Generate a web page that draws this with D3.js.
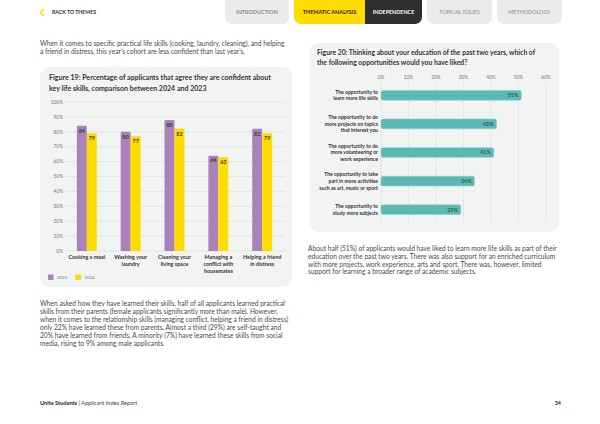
<!DOCTYPE html>
<html>
<head>
<meta charset="utf-8">
<script src="https://cdn.jsdelivr.net/npm/d3@7"></script>
<style>
  body { margin: 0; background: #fff; }
  svg { display: block; font-family: Lato, "Open Sans", sans-serif; }
</style>
</head>
<body>
<svg id="page" width="600" height="424"></svg>
<script>
// ---- data ----
const navTabs = ["INTRODUCTION", "THEMATIC ANALYSIS", "INDEPENDENCE", "TOPICAL ISSUES", "METHODOLOGY"];
const skills = ["Cooking a meal", "Washing your\nlaundry", "Cleaning your\nliving space", "Managing a\nconflict with\nhousemates", "Helping a friend\nin distress"];
const years = ["2023", "2024"];
const values2023 = [84, 80, 88, 64, 82];
const values2024 = [79, 77, 82, 63, 79];
const yTicks = [0, 10, 20, 30, 40, 50, 60, 70, 80, 90, 100];

const opportunities = [
  "The opportunity to\nlearn more life skills",
  "The opportunity to do\nmore projects on topics\nthat interest you",
  "The opportunity to do\nmore volunteering or\nwork experience",
  "The opportunity to take\npart in more activities\nsuch as art, music or sport",
  "The opportunity to\nstudy more subjects"
];
const oppValues = [51, 42, 41, 34, 29];
const xTicks = [0, 10, 20, 30, 40, 50, 60];

const introText = [
  "When it comes to specific practical life skills (cooking, laundry, cleaning), and helping",
  "a friend in distress, this year\u2019s cohort are less confident than last year\u2019s."
];
const fig19Title = ["Figure 19: Percentage of applicants that agree they are confident about",
  "key life skills, comparison between 2024 and 2023"];
const fig20Title = ["Figure 20: Thinking about your education of the past two years, which of",
  "the following opportunities would you have liked?"];
const rightText = [
  "About half (51%) of applicants would have liked to learn more life skills as part of their",
  "education over the past two years. There was also support for an enriched curriculum",
  "with more projects, work experience, arts and sport. There was, however, limited",
  "support for learning a broader range of academic subjects."
];
const leftText = [
  "When asked how they have learned their skills, half of all applicants learned practical",
  "skills from their parents (female applicants significantly more than male). However,",
  "when it comes to the relationship skills (managing conflict, helping a friend in distress)",
  "only 22% have learned these from parents. Almost a third (29%) are self-taught and",
  "20% have learned from friends. A minority (7%) have learned these skills from social",
  "media, rising to 9% among male applicants."
];

const purple = "#a982b9";
const yellow = "#ffdc00";
const teal = "#5cb8b3";
const boxFill = "#f2f3f3";
const gridCol = "#dfe1e1";
const textCol = "#4a4a4a";

const svg = d3.select("#page");

// ---- nav bar ----
const tabX = [225, 294, 365, 427, 497];
const tabW = [64, 71, 57, 65, 65];
const nav = svg.append("g");
nav.selectAll("rect").data(navTabs).enter()
  .append("rect")
  .attr("x", (d, i) => tabX[i])
  .attr("y", -10)
  .attr("width", (d, i) => tabW[i])
  .attr("height", 34)
  .attr("rx", 7)
  .attr("fill", (d, i) => i == 1 ? yellow : i == 2 ? "#2f2f2f" : "#ebebeb");
// square off the joint between the two active tabs
nav.append("rect").attr("x", 355).attr("y", -10).attr("width", 10).attr("height", 34).attr("fill", yellow);
nav.append("rect").attr("x", 365).attr("y", -10).attr("width", 10).attr("height", 34).attr("fill", "#2f2f2f");
nav.selectAll("text").data(navTabs).enter()
  .append("text")
  .attr("x", (d, i) => tabX[i] + tabW[i] / 2)
  .attr("y", 14.2)
  .attr("text-anchor", "middle")
  .attr("font-size", 5.4)
  .attr("font-weight", (d, i) => i < 3 ? 700 : 400)
  .attr("fill", (d, i) => i == 1 ? "#222" : i == 2 ? "#fff" : "#8a8a8a")
  .text(d => d);
nav.append("path")
  .attr("d", "M44,9 L40.5,12.5 L44,16")
  .attr("fill", "none").attr("stroke", yellow).attr("stroke-width", 1.6);
nav.append("text").attr("x", 52).attr("y", 14.2)
  .attr("font-size", 5.2).attr("font-weight", 700).attr("fill", "#333")
  .text("BACK TO THEMES");

// ---- paragraphs ----
function para(lines, x, y0, step) {
  svg.append("g").selectAll("text").data(lines).enter()
    .append("text")
    .attr("x", x)
    .attr("y", (d, i) => y0 + i * step)
    .attr("font-size", 6.65)
    .attr("fill", textCol)
    .text(d => d);
}
para(introText, 40, 46.2, 7.6);
para(rightText, 308, 251.2, 7.7);
para(leftText, 40, 306.2, 7.9);

// ---- Figure 19 (grouped columns) ----
svg.append("rect").attr("x", 40).attr("y", 67).attr("width", 252).attr("height", 220)
  .attr("rx", 9).attr("fill", boxFill);
svg.append("g").selectAll("text").data(fig19Title).enter()
  .append("text")
  .attr("x", 49).attr("y", (d, i) => 80 + i * 10.5)
  .attr("font-size", 7.05).attr("font-weight", 700).attr("fill", "#333")
  .text(d => d);

const y = d3.scaleLinear().domain([0, 100]).range([251, 102]);
const x0 = d3.scaleBand().domain(d3.range(skills.length)).range([65, 284]).paddingInner(0.545).paddingOuter(0.27);
const x1 = d3.scaleBand().domain(years).range([0, x0.bandwidth()]);
const colChart = svg.append("g");

colChart.append("g").selectAll("line").data(yTicks).enter()
  .append("line")
  .attr("x1", 65).attr("x2", 285)
  .attr("y1", d => y(d)).attr("y2", d => y(d))
  .attr("stroke", gridCol).attr("stroke-width", 0.7);
colChart.append("g").selectAll("text").data(yTicks).enter()
  .append("text")
  .attr("x", 63).attr("y", d => y(d) + 1.7)
  .attr("text-anchor", "end")
  .attr("font-size", 4.8).attr("fill", "#777")
  .text(d => d + "%");

const colData = [];
skills.forEach((s, i) => {
  colData.push({ i: i, year: "2023", v: values2023[i] });
  colData.push({ i: i, year: "2024", v: values2024[i] });
});
colChart.append("g").selectAll("path").data(colData).enter()
  .append("path")
  .attr("d", d => {
    const bx = x0(d.i) + x1(d.year), bw = x1.bandwidth(), top = y(d.v), bot = y(0), r = 1.2;
    return `M${bx},${bot} L${bx},${top + r} Q${bx},${top} ${bx + r},${top} L${bx + bw - r},${top} Q${bx + bw},${top} ${bx + bw},${top + r} L${bx + bw},${bot} Z`;
  })
  .attr("fill", d => d.year == "2023" ? purple : yellow);
colChart.append("g").selectAll("text").data(colData).enter()
  .append("text")
  .attr("x", d => x0(d.i) + x1(d.year) + x1.bandwidth() / 2)
  .attr("y", d => y(d.v) + 6.8)
  .attr("text-anchor", "middle")
  .attr("font-size", 5.4).attr("font-weight", 700)
  .attr("fill", "#3b3340")
  .text(d => d.v);

const catLabels = colChart.append("g").selectAll("text").data(skills).enter()
  .append("text")
  .attr("x", (d, i) => x0(i) + x0.bandwidth() / 2)
  .attr("y", 259)
  .attr("text-anchor", "middle")
  .attr("font-size", 5.4).attr("font-weight", 700).attr("fill", "#333");
catLabels.selectAll("tspan").data(d => d.split("\n")).enter()
  .append("tspan")
  .attr("x", function () { return this.parentNode.getAttribute("x"); })
  .attr("dy", (d, i) => i == 0 ? 0 : 6.9)
  .text(d => d);

const legend = colChart.append("g");
legend.selectAll("rect").data(years).enter()
  .append("rect")
  .attr("x", (d, i) => 48 + i * 27.5).attr("y", 274.5)
  .attr("width", 5.5).attr("height", 5.5)
  .attr("fill", d => d == "2023" ? purple : yellow);
legend.selectAll("text").data(years).enter()
  .append("text")
  .attr("x", (d, i) => 57 + i * 27.5).attr("y", 279.3)
  .attr("font-size", 4.3).attr("fill", "#777")
  .text(d => d);

// ---- Figure 20 (horizontal bars) ----
svg.append("rect").attr("x", 309).attr("y", 43).attr("width", 250).attr("height", 189)
  .attr("rx", 9).attr("fill", boxFill);
svg.append("g").selectAll("text").data(fig20Title).enter()
  .append("text")
  .attr("x", 317).attr("y", (d, i) => 55 + i * 10.3)
  .attr("font-size", 6.8).attr("font-weight", 700).attr("fill", "#333")
  .text(d => d);

const x = d3.scaleLinear().domain([0, 60]).range([381, 546]);
const yb = d3.scaleBand().domain(d3.range(opportunities.length)).range([81, 224]).paddingInner(0.66).paddingOuter(0.33);
const barChart = svg.append("g");

barChart.append("g").selectAll("line").data(xTicks).enter()
  .append("line")
  .attr("x1", d => x(d)).attr("x2", d => x(d))
  .attr("y1", 82).attr("y2", 223)
  .attr("stroke", gridCol).attr("stroke-width", 0.7);
barChart.append("g").selectAll("text").data(xTicks).enter()
  .append("text")
  .attr("x", d => x(d)).attr("y", 78.5)
  .attr("text-anchor", "middle")
  .attr("font-size", 4.8).attr("fill", "#777")
  .text(d => d + "%");

barChart.append("g").selectAll("rect").data(oppValues).enter()
  .append("rect")
  .attr("x", x(0))
  .attr("y", (d, i) => yb(i))
  .attr("width", d => x(d) - x(0))
  .attr("height", yb.bandwidth())
  .attr("rx", 1.8)
  .attr("fill", teal)
  .attr("stroke", "#8fd0cc").attr("stroke-width", 0.6);
barChart.append("g").selectAll("text").data(oppValues).enter()
  .append("text")
  .attr("x", d => x(d) - 3)
  .attr("y", (d, i) => yb(i) + yb.bandwidth() / 2 + 1.9)
  .attr("text-anchor", "end")
  .attr("font-size", 5.3).attr("font-weight", 700).attr("fill", "#2c5e5b")
  .text(d => d + "%");

const oppLabels = barChart.append("g").selectAll("text").data(opportunities).enter()
  .append("text")
  .attr("x", 378)
  .attr("y", (d, i) => {
    const n = d.split("\n").length;
    return yb(i) + yb.bandwidth() / 2 + 1.7 - (n - 1) * 6.7 / 2;
  })
  .attr("text-anchor", "end")
  .attr("font-size", 5.1).attr("font-weight", 700).attr("fill", "#333");
oppLabels.selectAll("tspan").data(d => d.split("\n")).enter()
  .append("tspan")
  .attr("x", 378)
  .attr("dy", (d, i) => i == 0 ? 0 : 6.7)
  .text(d => d);

// ---- footer ----
const footer = svg.append("text").attr("x", 40).attr("y", 405).attr("font-size", 5.6).attr("fill", "#444");
footer.append("tspan").attr("font-weight", 700).attr("fill", "#222").text("Unite Students");
footer.append("tspan").text("  |  Applicant Index Report");
svg.append("text").attr("x", 561).attr("y", 405).attr("text-anchor", "end")
  .attr("font-size", 5.4).attr("font-weight", 700).attr("fill", "#222").text("34");
</script>
</body>
</html>
